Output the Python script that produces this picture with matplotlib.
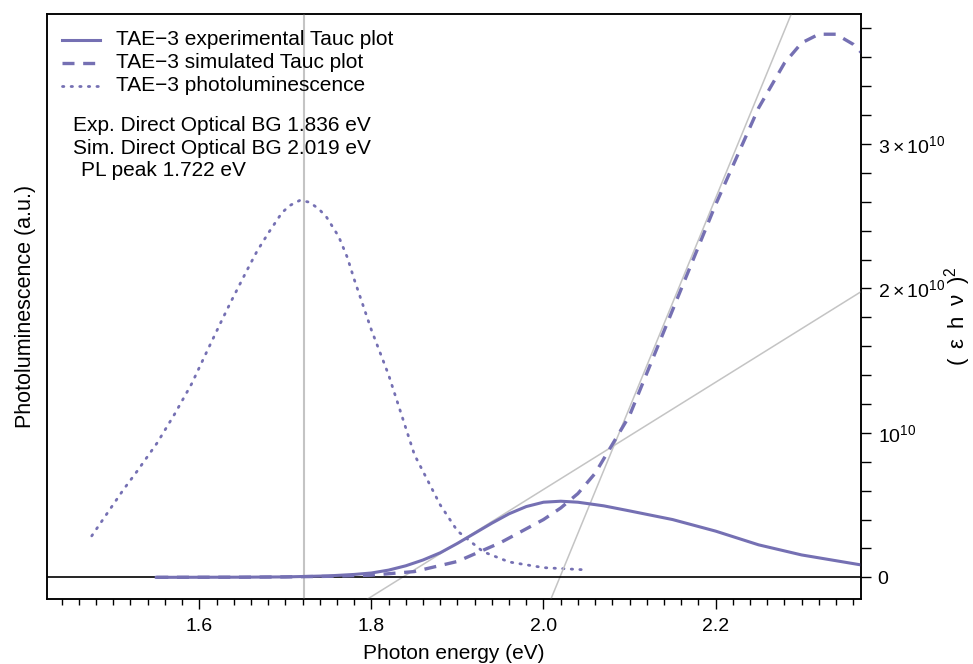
import numpy as np
import matplotlib
matplotlib.use("Agg")
import matplotlib.pyplot as plt
from matplotlib.lines import Line2D
from matplotlib.ticker import MultipleLocator, FixedLocator

plt.rcParams['font.family'] = ['Liberation Sans', 'DejaVu Sans']
plt.rcParams['mathtext.fontset'] = 'custom'
plt.rcParams['mathtext.rm'] = 'Liberation Sans'
plt.rcParams['mathtext.it'] = 'Liberation Sans'

# photon energy (eV) and Tauc values in units of 1e10
e_exp = [1.55, 1.65, 1.70, 1.75, 1.78, 1.80, 1.82, 1.84, 1.86, 1.88, 1.90, 1.92, 1.94,
         1.96, 1.98, 2.00, 2.02, 2.04, 2.07, 2.10, 2.15, 2.20, 2.25, 2.30, 2.37]
tauc_exp = [0.0, 0.001, 0.003, 0.01, 0.02, 0.03, 0.05, 0.08, 0.12, 0.17, 0.235, 0.305, 0.375,
            0.44, 0.49, 0.52, 0.527, 0.52, 0.495, 0.46, 0.40, 0.32, 0.225, 0.155, 0.085]

e_sim = [1.55, 1.65, 1.70, 1.75, 1.80, 1.85, 1.90, 1.95, 2.00, 2.02, 2.04, 2.06, 2.08,
         2.10, 2.15, 2.20, 2.25, 2.28, 2.30, 2.32, 2.34, 2.36, 2.37]
tauc_sim = [0.0, 0.001, 0.003, 0.007, 0.015, 0.04, 0.11, 0.24, 0.40, 0.48, 0.58, 0.72, 0.92,
            1.12, 1.85, 2.58, 3.25, 3.56, 3.70, 3.76, 3.76, 3.69, 3.63]

# photoluminescence, arbitrary units
e_pl = [1.475, 1.512, 1.528, 1.551, 1.5715, 1.591, 1.608, 1.625, 1.6366, 1.655, 1.667,
        1.681, 1.696, 1.705, 1.717, 1.728, 1.739, 1.748, 1.762, 1.772, 1.78, 1.80,
        1.82, 1.85, 1.88, 1.90, 1.93, 1.96, 2.00, 2.05]
pl = [0.109, 0.232, 0.281, 0.355, 0.432, 0.511, 0.593, 0.674, 0.728, 0.810, 0.862,
      0.913, 0.964, 0.983, 0.997, 0.992, 0.974, 0.952, 0.901, 0.846, 0.788, 0.654,
      0.535, 0.324, 0.191, 0.122, 0.067, 0.040, 0.025, 0.019]

bg_exp = 1.836
bg_sim = 2.019
pl_peak = 1.722
slope_exp = 3.71    # 1e10 per eV
slope_sim = 14.5

col = '#7570b3'
grey = '#c4c4c4'
dash = (0, (3.6, 2.6))
dots = (0, (0.5, 2.6))

fig = plt.figure(figsize=(9.73, 6.64), dpi=100)
ax = fig.add_axes([47/973, 1 - 599/664, 814/973, 585/664])
ax2 = ax.twinx()

xlim = (1.423, 2.369)
ax.set_xlim(*xlim)
ax.set_ylim(-0.058, 1.49)
ax2.set_ylim(-0.15, 3.90)

ax.plot(e_pl, pl, color=col, lw=2, linestyle=dots, dash_capstyle='round')

# tangent fits and PL peak marker
xs = np.array(xlim)
ax2.plot(xs, slope_exp * (xs - bg_exp), color=grey, lw=1.1)
ax2.plot(xs, slope_sim * (xs - bg_sim), color=grey, lw=1.1)
ax2.axvline(pl_peak, color=grey, lw=1.5)
ax2.axhline(0, color='black', lw=1.2)

ax2.plot(e_exp, tauc_exp, color=col, lw=2.2)
ax2.plot(e_sim, tauc_sim, color=col, lw=2.4, linestyle=dash)

ax.set_yticks([])
ax.set_ylabel('Photoluminescence (a.u.)', fontsize=15.5, labelpad=8)
ax.set_xlabel('Photon energy (eV)', fontsize=15, labelpad=6)
ax.xaxis.set_major_locator(FixedLocator([1.6, 1.8, 2.0, 2.2]))
ax.xaxis.set_minor_locator(MultipleLocator(0.02))
ax.set_xticklabels(['1.6', '1.8', '2.0', '2.2'])
ax.tick_params(axis='x', which='major', length=7, width=1, labelsize=14, pad=7)
ax.tick_params(axis='x', which='minor', length=4, width=1)

ax2.yaxis.set_major_locator(FixedLocator([0, 1, 2, 3]))
ax2.yaxis.set_minor_locator(MultipleLocator(0.2))
ax2.set_yticklabels(['0', r'$10^{10}$', r'$2\times10^{10}$', r'$3\times10^{10}$'])
ax2.tick_params(axis='y', which='major', length=7, width=1, labelsize=14, pad=5)
ax2.tick_params(axis='y', which='minor', length=7, width=1)
# right-hand axis title placed in figure coords so it stays inside the canvas
fig.text(958/973, 1 - 316/664, r'$\mathregular{(\;\;\varepsilon\;\;h\;\;\nu\;\;)^2}$',
         fontsize=16, rotation=90, ha='center', va='center')

for a in (ax, ax2):
    for s in a.spines.values():
        s.set_linewidth(1.1)

# legend rows drawn by hand
styles = [dict(lw=2.2), dict(lw=2.4, linestyle=dash), dict(lw=2, linestyle=dots, dash_capstyle='round')]
labels = ['TAE\u22123 experimental Tauc plot', 'TAE\u22123 simulated Tauc plot',
          'TAE\u22123 photoluminescence']
rows = [0.9556, 0.917, 0.877]
for st, lab, yr in zip(styles, labels, rows):
    ax2.add_line(Line2D([0.0184, 0.065], [yr, yr], color=col, transform=ax2.transAxes, **st))
    ax2.text(0.0848, yr, lab, transform=ax2.transAxes, fontsize=15, va='center')

ax2.text(0.032, 0.809, 'Exp. Direct Optical BG %.3f eV' % bg_exp, transform=ax2.transAxes,
         fontsize=15, va='center')
ax2.text(0.032, 0.770, 'Sim. Direct Optical BG %.3f eV' % bg_sim, transform=ax2.transAxes,
         fontsize=15, va='center')
ax2.text(0.042, 0.732, 'PL peak %.3f eV' % pl_peak, transform=ax2.transAxes,
         fontsize=15, va='center')

fig.savefig('out.png', dpi=100)
